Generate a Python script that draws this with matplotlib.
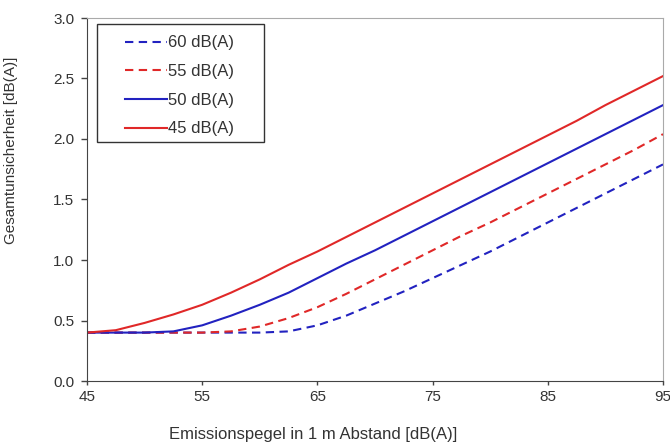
import matplotlib
matplotlib.use("Agg")
import matplotlib.pyplot as plt
from matplotlib.patches import Rectangle

plt.rcParams['font.family'] = ['Liberation Sans', 'DejaVu Sans']

# Emissionspegel in 1 m Abstand [dB(A)]
x = [45, 47.5, 50, 52.5, 55, 57.5, 60, 62.5, 65, 67.5, 70, 72.5, 75,
     77.5, 80, 82.5, 85, 87.5, 90, 92.5, 95]

# Gesamtunsicherheit [dB(A)] je Immissionsrichtwert
y60 = [0.40, 0.40, 0.40, 0.40, 0.40, 0.40, 0.40, 0.41, 0.46, 0.54, 0.64,
       0.74, 0.85, 0.96, 1.07, 1.19, 1.31, 1.43, 1.55, 1.67, 1.79]
y55 = [0.40, 0.40, 0.40, 0.40, 0.40, 0.41, 0.45, 0.52, 0.61, 0.72, 0.84,
       0.96, 1.08, 1.20, 1.31, 1.43, 1.55, 1.67, 1.79, 1.91, 2.04]
y50 = [0.40, 0.40, 0.40, 0.41, 0.46, 0.54, 0.63, 0.73, 0.85, 0.97, 1.08,
       1.20, 1.32, 1.44, 1.56, 1.68, 1.80, 1.92, 2.04, 2.16, 2.28]
y45 = [0.40, 0.42, 0.48, 0.55, 0.63, 0.73, 0.84, 0.96, 1.07, 1.19, 1.31,
       1.43, 1.55, 1.67, 1.79, 1.91, 2.03, 2.15, 2.28, 2.40, 2.52]

labels = ["60 dB(A)", "55 dB(A)", "50 dB(A)", "45 dB(A)"]

red = "#e02828"
blue = "#2222c0"
txt = "#333333"
dash = (0, (4, 2.6))

fig = plt.figure(figsize=(6.7, 4.44), dpi=100)
ax = fig.add_axes([87 / 670, 63 / 444, 576 / 670, 363 / 444])

ax.plot(x, y60, color=blue, lw=1.5, ls=dash, label=labels[0])
ax.plot(x, y55, color=red, lw=1.5, ls=dash, label=labels[1])
ax.plot(x, y50, color=blue, lw=1.5, label=labels[2])
ax.plot(x, y45, color=red, lw=1.5, label=labels[3])

ax.set_xlim(45, 95)
ax.set_ylim(0, 3.0)
ax.set_xticks([45, 55, 65, 75, 85, 95])
ax.set_yticks([0, 0.5, 1.0, 1.5, 2.0, 2.5, 3.0])
ax.set_yticklabels(["%.1f" % v for v in ax.get_yticks()])

ax.tick_params(direction='out', width=1, colors="#444444",
               labelcolor=txt, labelsize=11)
ax.tick_params(axis='y', length=4.3, pad=4.8)
ax.tick_params(axis='x', length=3, pad=3.4)
for s in ['left', 'bottom']:
    ax.spines[s].set_color("#444444")
for s in ['top', 'right']:
    ax.spines[s].set_color("#aaaaaa")

ax.set_xlabel("Emissionspegel in 1 m Abstand [dB(A)]", fontsize=12, color=txt)
ax.set_ylabel("Gesamtunsicherheit [dB(A)]", fontsize=11, color=txt)
ax.xaxis.set_label_coords(0.392, -0.128)
ax.yaxis.set_label_coords(-0.12, 0.636)

# Legendenrahmen separat, damit die Innenabstände passen
ax.add_patch(Rectangle((0.0174, 0.658), 0.2896, 0.325, transform=ax.transAxes,
                       facecolor='white', edgecolor="#333333", lw=1.0,
                       zorder=4))
leg = ax.legend(loc='upper left', bbox_to_anchor=(0.066, 0.952),
                fontsize=12, handlelength=2.5, handletextpad=0.05,
                labelspacing=0.82, borderpad=0, borderaxespad=0,
                frameon=False)
leg.set_zorder(5)
for t in leg.get_texts():
    t.set_color(txt)

fig.savefig("out.png", dpi=100)
